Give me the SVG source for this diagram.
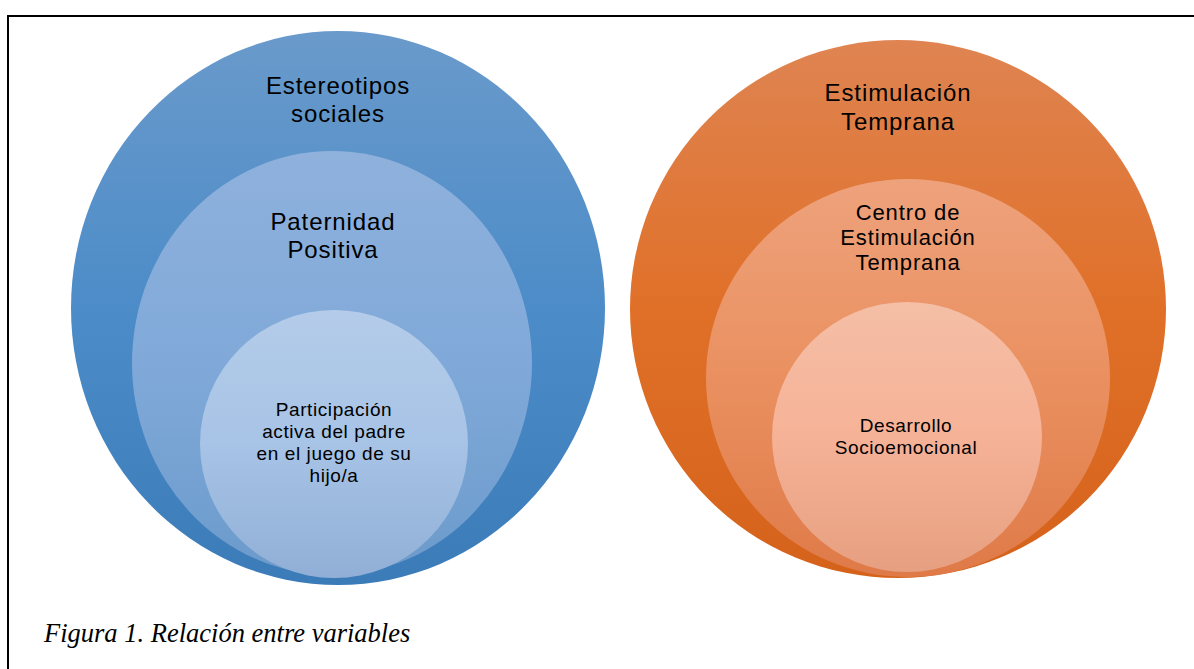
<svg xmlns="http://www.w3.org/2000/svg" width="1194" height="669" viewBox="0 0 1194 669">
<style>
.t{font-family:"Liberation Sans",Arial,sans-serif;fill:#000;text-anchor:middle}
.l{font-size:24px;letter-spacing:0.9px}
.m{font-size:22px;letter-spacing:0.9px}
.s{font-size:19px;letter-spacing:0.6px}
.cap{font-family:"Liberation Serif","Times New Roman",serif;font-style:italic;font-size:26.5px;fill:#000}
</style>
<defs>
<linearGradient id="b1" x1="0" y1="0" x2="0" y2="1"><stop offset="0" stop-color="#6a9acb"/><stop offset="0.5" stop-color="#4c8cc8"/><stop offset="1" stop-color="#3b7bb8"/></linearGradient>
<linearGradient id="b2" x1="0" y1="0" x2="0" y2="1"><stop offset="0" stop-color="#8fb1dc"/><stop offset="0.5" stop-color="#80a9d9"/><stop offset="1" stop-color="#6b9bcb"/></linearGradient>
<linearGradient id="b3" x1="0" y1="0" x2="0" y2="1"><stop offset="0" stop-color="#b4cce9"/><stop offset="0.5" stop-color="#a7c3e6"/><stop offset="1" stop-color="#91afd6"/></linearGradient>
<linearGradient id="o1" x1="0" y1="0" x2="0" y2="1"><stop offset="0" stop-color="#df8452"/><stop offset="0.5" stop-color="#e07028"/><stop offset="1" stop-color="#d5621a"/></linearGradient>
<linearGradient id="o2" x1="0" y1="0" x2="0" y2="1"><stop offset="0" stop-color="#eea27c"/><stop offset="0.5" stop-color="#ea9060"/><stop offset="1" stop-color="#df7a48"/></linearGradient>
<linearGradient id="o3" x1="0" y1="0" x2="0" y2="1"><stop offset="0" stop-color="#f4bfa6"/><stop offset="0.5" stop-color="#f6b297"/><stop offset="1" stop-color="#e69f80"/></linearGradient>
</defs>
<rect x="8" y="16" width="1200" height="700" fill="#fff" stroke="#000" stroke-width="2"/>
<g id="estereotipos">
<ellipse cx="338" cy="308" rx="267" ry="277" fill="url(#b1)"/>
<text class="t l" x="338" y="94">Estereotipos</text>
<text class="t l" x="338" y="122">sociales</text>
</g>
<g id="paternidad">
<ellipse cx="332" cy="363" rx="200" ry="212" fill="url(#b2)"/>
<text class="t l" x="333" y="230">Paternidad</text>
<text class="t l" x="333" y="258">Positiva</text>
</g>
<g id="participacion">
<ellipse cx="334" cy="444" rx="134" ry="134" fill="url(#b3)"/>
<text class="t s" x="334" y="416">Participación</text>
<text class="t s" x="334" y="438">activa del padre</text>
<text class="t s" x="334" y="460">en el juego de su</text>
<text class="t s" x="334" y="482">hijo/a</text>
</g>
<g id="estimulacion">
<ellipse cx="898" cy="309" rx="268" ry="269" fill="url(#o1)"/>
<text class="t l" x="898" y="101">Estimulación</text>
<text class="t l" x="898" y="130">Temprana</text>
</g>
<g id="centro">
<ellipse cx="908" cy="378" rx="202" ry="199" fill="url(#o2)"/>
<text class="t m" x="908" y="220">Centro de</text>
<text class="t m" x="908" y="245">Estimulación</text>
<text class="t m" x="908" y="270">Temprana</text>
</g>
<g id="desarrollo">
<ellipse cx="907" cy="437" rx="135" ry="135" fill="url(#o3)"/>
<text class="t s" x="906" y="432">Desarrollo</text>
<text class="t s" x="906" y="454">Socioemocional</text>
</g>
<g id="connectors"></g>
<text class="cap" x="44" y="642">Figura 1. Relación entre variables</text>
</svg>
